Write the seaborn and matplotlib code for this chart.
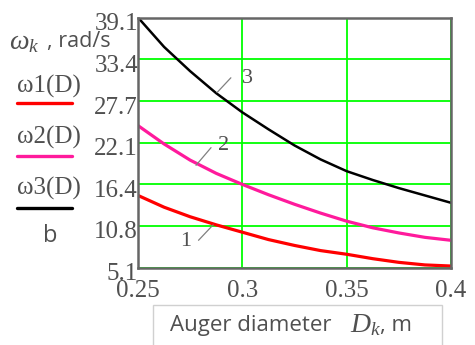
import matplotlib
matplotlib.use("Agg")
import matplotlib.pyplot as plt
import matplotlib.transforms as mtransforms
import seaborn as sns
import pandas as pd
from matplotlib.lines import Line2D
from matplotlib.patches import Rectangle

# ---- data ----
D = [0.25, 0.2625, 0.275, 0.2875, 0.30, 0.3125, 0.325, 0.3375, 0.35, 0.3625, 0.375, 0.3875, 0.40]
omega1 = [14.9, 13.3, 12.0, 10.9, 9.9, 8.9, 8.1, 7.4, 6.9, 6.3, 5.8, 5.45, 5.3]
omega2 = [24.4, 21.9, 19.7, 17.9, 16.4, 15.0, 13.7, 12.5, 11.4, 10.5, 9.8, 9.2, 8.8]
omega3 = [39.1, 35.1, 31.8, 28.8, 26.2, 23.9, 21.7, 19.8, 18.2, 17.0, 15.9, 14.9, 13.9]
series_names = ["ω1(D)", "ω2(D)", "ω3(D)"]
curve_numbers = ["1", "2", "3"]
y_ticks = [5.1, 10.8, 16.4, 22.1, 27.7, 33.4, 39.1]
x_ticks = [0.25, 0.3, 0.35, 0.4]
x_tick_labels = ["0.25", "0.3", "0.35", "0.4"]
colors = ["#ff0000", "#ff1a9c", "#000000"]

sns.set_style("white")
plt.rcParams['font.family'] = ['Liberation Serif', 'DejaVu Serif']
plt.rcParams['mathtext.fontset'] = 'custom'
plt.rcParams['mathtext.it'] = 'Liberation Serif:italic'
plt.rcParams['mathtext.rm'] = 'Liberation Serif'

df = pd.DataFrame({
    "D": D * 3,
    "omega": omega1 + omega2 + omega3,
    "series": [n for n in series_names for _ in D],
})

TXT = "#505050"
W, H = 475, 345
fig = plt.figure(figsize=(W / 100, H / 100), dpi=100)
ax = fig.add_axes([138 / W, 1 - 267.5 / H, (451 - 138) / W, (267.5 - 17.5) / H])

sns.lineplot(data=df, x="D", y="omega", hue="series",
             palette=dict(zip(series_names, colors)), ax=ax, legend=False,
             linewidth=2.2)
for ln, lw in zip(ax.lines, [2.3, 2.3, 1.8]):
    ln.set_linewidth(lw)
    ln.set_solid_joinstyle("round")

ax.set_xlim(0.25, 0.4)
ax.set_ylim(5.1, 39.1)
ax.set_xticks(x_ticks)
ax.set_xticklabels(x_tick_labels)
ax.set_yticks(y_ticks)
ax.set_yticklabels([f"{v}" for v in y_ticks])
ax.grid(True, color="#00ff00", linewidth=1.3)
ax.tick_params(axis="both", length=0, labelsize=18, labelcolor=TXT)
ax.tick_params(axis="x", pad=9)
ax.tick_params(axis="y", pad=0)
ax.set_xlabel("")
ax.set_ylabel("")
for s in ax.spines.values():
    s.set_color("#666666")
    s.set_linewidth(1.8)

# shift y tick labels slightly downward, as in the reference
shift = mtransforms.ScaledTranslation(0, -4 / 100, fig.dpi_scale_trans)
for lab in ax.get_yticklabels():
    lab.set_transform(lab.get_transform() + shift)

# curve number labels with leader lines
label_pos = [(0.2730, 8.7), (0.2910, 21.7), (0.3025, 30.8)]
leader_start = [(0.2790, 8.8), (0.2778, 19.0), (0.2879, 28.9)]
leader_end = [(0.2860, 10.9), (0.2850, 21.4), (0.2945, 30.9)]
for num, p, a, b in zip(curve_numbers, label_pos, leader_start, leader_end):
    ax.plot([a[0], b[0]], [a[1], b[1]], color="#808080", lw=0.9)
    ax.text(p[0], p[1], num, fontsize=16, color=TXT, ha="center", va="center")

# left-side legend / axis title
fig.text(9 / W, 1 - 43 / H, r"$\omega_k$", fontsize=20, color=TXT, va="center")
fig.text(47 / W, 1 - 42 / H, ", rad/s", family="Open Sans", fontsize=15.5,
         color=TXT, va="center")
legend_text_y = [86, 137, 188]
legend_line_y = [103, 156, 208]
for name, c, ty, ly in zip(series_names, colors, legend_text_y, legend_line_y):
    fig.text(17 / W, 1 - ty / H, name, fontsize=18, color=TXT, va="center")
    fig.add_artist(Line2D([17 / W, 72 / W], [1 - ly / H] * 2, color=c, lw=2.4,
                          transform=fig.transFigure))
fig.text(50 / W, 1 - 236 / H, "b", family="Open Sans", fontsize=17, color=TXT,
         ha="center", va="center")

# x-axis title in a box
fig.add_artist(Rectangle((153 / W, -0.02), (442 - 153) / W, 0.02 + (345 - 305) / H,
                         transform=fig.transFigure, fill=False,
                         edgecolor="#d0d0d0", lw=1))
fig.text(170 / W, 1 - 326 / H, "Auger diameter", family="Open Sans", fontsize=16,
         color=TXT, va="center")
fig.text(350 / W, 1 - 325 / H, r"$D_k$", fontsize=20, color=TXT, va="center")
fig.text(380 / W, 1 - 326 / H, ", m", family="Open Sans", fontsize=16,
         color=TXT, va="center")

fig.savefig("out.png", dpi=100)
